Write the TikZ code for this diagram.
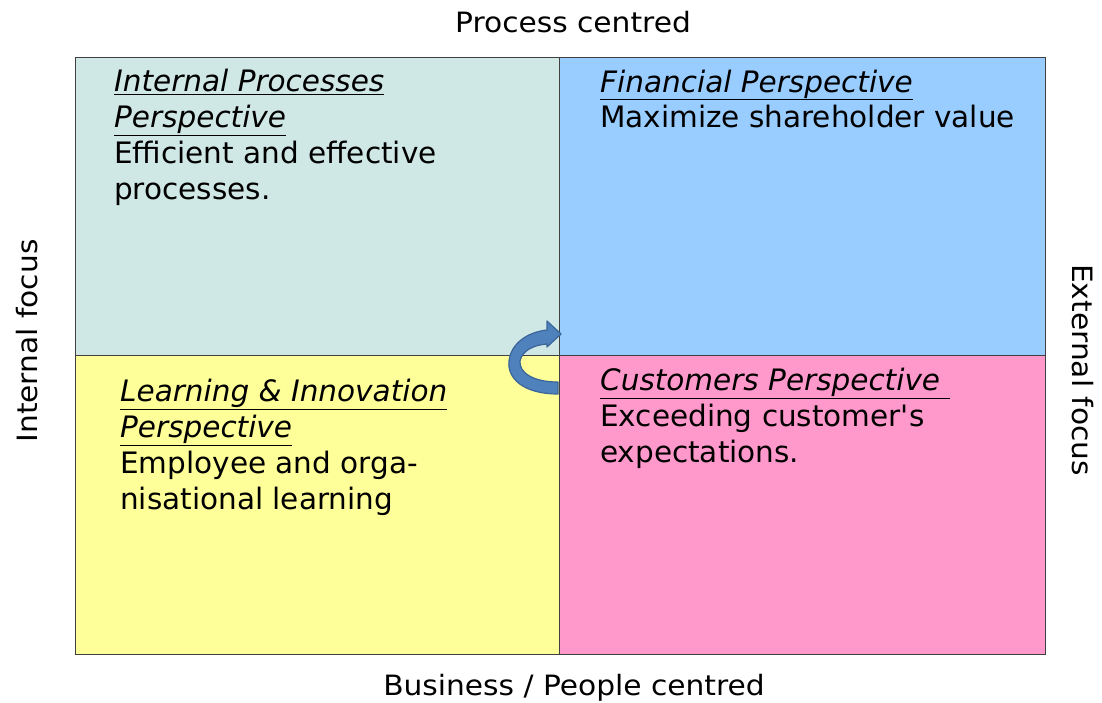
\documentclass[tikz,border=0pt]{standalone}
\usepackage{fontspec}
\setmainfont{DejaVu Sans}[Ligatures=TeXOff]
\newfontfamily\axisfont[FakeStretch=1.06]{DejaVu Sans}
\begin{document}
\begin{tikzpicture}[x=1pt,y=-1pt,
  quad/.style={draw=black!75, line width=0.8pt},
  body/.style={anchor=base west, align=left, inner sep=0pt,
    font=\fontsize{29.5}{35.7}\selectfont},
  axis/.style={inner sep=0pt, font=\axisfont\fontsize{28}{30}\selectfont}]
\definecolor{qtl}{HTML}{CFE7E5}
\definecolor{qtr}{HTML}{99CCFF}
\definecolor{qbl}{HTML}{FFFF99}
\definecolor{qbr}{HTML}{FF99CC}
\definecolor{arrfill}{HTML}{4F81BD}
\definecolor{arrline}{HTML}{3A6599}
\useasboundingbox (0,0) rectangle (1102,702);

% quadrants
\path[quad, fill=qtl] (75,57) rectangle (559,355);
\path[quad, fill=qtr] (559,57) rectangle (1045,355);
\path[quad, fill=qbl] (75,355) rectangle (559,654);
\path[quad, fill=qbr] (559,355) rectangle (1045,654);

% quadrant texts (placed by the baseline of their last line)
\node[body] (ip) at (114,199) {\underline{\textit{Internal Processes}}\\
  \underline{\textit{Perspective}}\\
  Efficient and effective\\
  processes.};
\node[body] (fp) at (600,127.7) {\underline{\textit{Financial Perspective}}\\
  Maximize shareholder value};
\node[body] (li) at (120,509) {\underline{\textit{Learning \& Innovation}}\\
  \underline{\textit{Perspective}}\\
  Employee and orga-\\
  nisational learning};
\node[body] (cp) at (600,462) {\underline{\textit{Customers Perspective\ }}\\
  Exceeding customer's\\
  expectations.};

% axis labels
\node[axis, anchor=base] (top) at (573,32) {Process centred};
\node[axis, anchor=base] (bottom) at (574,695) {Business / People centred};
\node[axis, rotate=90] (left) at (27,341) {Internal focus};
\node[axis, rotate=-90] (right) at (1083,370) {External focus};

% curved turn arrow at the centre
\path[fill=arrfill, draw=arrline, line width=1.2pt, line join=round]
  (558,394) .. controls (523,394) and (507,378) .. (509,361)
  .. controls (511,343) and (528,332) .. (547,330)
  -- (547,321) -- (561,334) -- (547,347) -- (547,344)
  .. controls (533,345) and (522,351) .. (520,361)
  .. controls (519,372) and (532,382) .. (558,382) -- cycle;
\end{tikzpicture}
\end{document}
